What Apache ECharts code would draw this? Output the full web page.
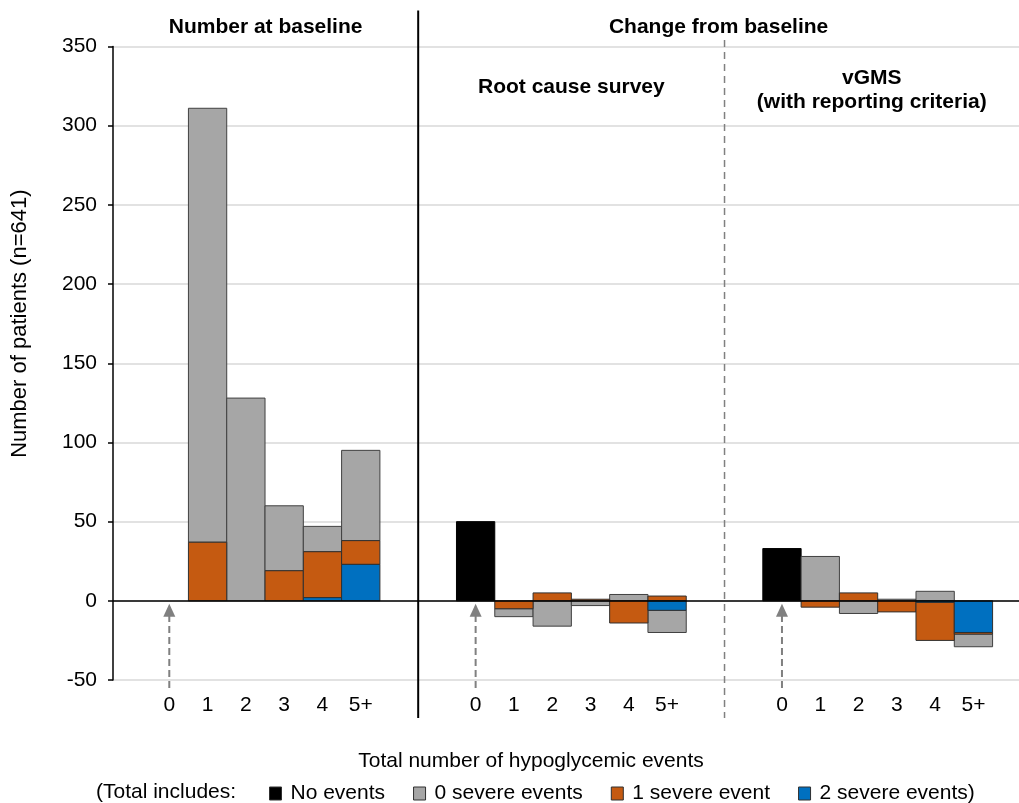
<!DOCTYPE html>
<html><head><meta charset="utf-8">
<script src="https://cdn.jsdelivr.net/npm/echarts@6/dist/echarts.min.js"></script>
<style>html,body{margin:0;padding:0;background:#fff}#c{width:1019px;height:803px}</style>
</head><body><div id="c"></div>
<script>
// ---------- data ----------
const categories = ['0', '1', '2', '3', '4', '5+'];
const seriesNames = ['No events', '0 severe events', '1 severe event', '2 severe events'];
// Number at baseline
const baseNoEvents = [0, 0, 0, 0, 0, 0];
const baseSevere0  = [0, 274, 128, 41, 16, 57];
const baseSevere1  = [0, 37, 0, 19, 29, 15];
const baseSevere2  = [0, 0, 0, 0, 2, 23];
// Change from baseline: Root cause survey
const rcNoEvents = [50, 0, 0, 0, 0, 0];
const rcSevere0  = [0, -5, -16, -3, 4, -14];
const rcSevere1  = [0, -5, 5, 1, -14, 3];
const rcSevere2  = [0, 0, 0, 0, 0, -6];
// Change from baseline: vGMS (with reporting criteria)
const vgNoEvents = [33, 0, 0, 0, 0, 0];
const vgSevere0  = [0, 28, -8, 1, 6, -8];
const vgSevere1  = [0, -4, 5, -7, -24, -1];
const vgSevere2  = [0, 0, 0, 0, -1, -20];
const yTicks = [-50, 0, 50, 100, 150, 200, 250, 300, 350];

// ---------- styling ----------
const FONT = '"Liberation Sans", Arial, sans-serif';
const COLORS = { none: '#000000', s0: '#a6a6a6', s1: '#c55a11', s2: '#0070c0' };
const BORDERS = { none: '#000000', s0: '#404040', s1: '#303030', s2: '#303030' };
const KEYS = ['none', 's0', 's1', 's2'];
const PANEL_STEP = 8;

const panels = [
  { none: baseNoEvents, s0: baseSevere0, s1: baseSevere1, s2: baseSevere2 },
  { none: rcNoEvents, s0: rcSevere0, s1: rcSevere1, s2: rcSevere2 },
  { none: vgNoEvents, s0: vgSevere0, s1: vgSevere1, s2: vgSevere2 }
];

// stack segments (same-sign stacking: no events, 2 severe, 1 severe, 0 severe outward from zero)
const seg = { none: [], s0: [], s1: [], s2: [] };
panels.forEach((p, pi) => {
  categories.forEach((c, ci) => {
    const x = pi * PANEL_STEP + ci;
    let pos = 0, neg = 0;
    ['none', 's2', 's1', 's0'].forEach(k => {
      const v = p[k][ci];
      if (!v) return;
      if (v > 0) { seg[k].push([x, pos, pos + v]); pos += v; }
      else { seg[k].push([x, neg, neg + v]); neg += v; }
    });
  });
});
const arrowX = panels.map((p, pi) => [pi * PANEL_STEP + categories.indexOf('0'), 0]);
const labelValues = [];
panels.forEach((p, pi) => categories.forEach((c, ci) => labelValues.push(pi * PANEL_STEP + ci)));

const chart = echarts.init(document.getElementById('c'), null, { renderer: 'canvas' });

const barSeries = KEYS.map((k, i) => ({
  type: 'custom',
  name: seriesNames[i],
  data: seg[k],
  encode: { x: 0, y: [1, 2] },
  itemStyle: { color: COLORS[k], borderColor: BORDERS[k], borderWidth: 1 },
  renderItem: (params, api) => {
    const x = api.value(0), y0 = api.value(1), y1 = api.value(2);
    const a = api.coord([x - 0.5, y0]), b = api.coord([x + 0.5, y1]);
    return {
      type: 'rect',
      shape: { x: a[0], y: Math.min(a[1], b[1]), width: b[0] - a[0], height: Math.abs(b[1] - a[1]) },
      style: { fill: COLORS[k], stroke: BORDERS[k], lineWidth: 1 }
    };
  }
}));

const arrowSeries = {
  type: 'custom',
  name: 'arrows',
  data: arrowX,
  encode: { x: 0, y: 1 },
  silent: true,
  z: 3,
  renderItem: (params, api) => {
    const x = api.value(0);
    const tip = api.coord([x, 0]);
    const bot = api.coord([x, -50]);
    const tipY = tip[1] + 3, baseY = bot[1] + 8;
    return {
      type: 'group',
      children: [
        { type: 'line', shape: { x1: tip[0], y1: baseY, x2: tip[0], y2: tipY + 12 },
          style: { stroke: '#808080', lineWidth: 2, lineDash: [7, 4] } },
        { type: 'polygon', shape: { points: [[tip[0], tipY], [tip[0] - 6, tipY + 13], [tip[0] + 6, tipY + 13]] },
          style: { fill: '#808080' } }
      ]
    };
  },
  markLine: {
    silent: true, symbol: 'none', label: { show: false },
    lineStyle: { color: '#000', width: 1.5, type: 'solid' },
    data: [{ yAxis: 0 }]
  }
};

const option = {
  backgroundColor: '#fff',
  animation: false,
  grid: { left: 113, right: 0, top: 46.5, bottom: 123 },
  xAxis: {
    type: 'value',
    min: -1.47, max: 22.19,
    axisLine: { show: false, onZero: false },
    axisTick: { show: false },
    splitLine: { show: false },
    axisLabel: {
      customValues: labelValues,
      formatter: v => categories[Math.round(v) % PANEL_STEP] || '',
      fontSize: 21, fontFamily: FONT, color: '#000', margin: 15
    }
  },
  yAxis: {
    type: 'value',
    min: yTicks[0], max: yTicks[yTicks.length - 1], interval: 50,
    axisLine: { show: true, onZero: false, lineStyle: { color: '#000', width: 1.5 } },
    axisTick: { show: true, length: 5, lineStyle: { color: '#000', width: 1.5 } },
    splitLine: { show: true, lineStyle: { color: '#d9d9d9', width: 1.5 } },
    axisLabel: { fontSize: 21, fontFamily: FONT, color: '#000', margin: 16 }
  },
  legend: {
    left: 264, top: 778,
    icon: 'rect', itemWidth: 12, itemHeight: 13, itemGap: 28,
    textStyle: { fontSize: 21, fontFamily: FONT, color: '#000', padding: [0, 0, 0, 4] },
    formatter: name => name === seriesNames[seriesNames.length - 1] ? name + ')' : name,
    data: seriesNames.map((n, i) => ({ name: n, itemStyle: { color: COLORS[KEYS[i]], borderColor: '#303030', borderWidth: 1 } }))
  },
  series: barSeries.concat([arrowSeries])
};
chart.setOption(option);

// annotations positioned from axis scales
const px = v => chart.convertToPixel({ xAxisIndex: 0 }, v);
const py = v => chart.convertToPixel({ yAxisIndex: 0 }, v);
const gridL = px(-1.47), gridR = px(22.19);
const sep1 = px(6.5), sep2 = px(14.5);
const t = (text, x, y, opts) => Object.assign({
  type: 'text', x: x, y: y,
  style: Object.assign({ text: text, font: 'bold 21px ' + FONT, fill: '#000',
    align: 'center', verticalAlign: 'middle', textAlign: 'center', textVerticalAlign: 'middle' }, opts || {})
});
chart.setOption({
  graphic: [
    { type: 'line', shape: { x1: sep1, y1: 10.5, x2: sep1, y2: 718 }, style: { stroke: '#000', lineWidth: 2 }, z: 10 },
    { type: 'line', shape: { x1: sep2, y1: 40, x2: sep2, y2: 718 }, style: { stroke: '#808080', lineWidth: 1.5, lineDash: [7, 5] }, z: 10 },
    t('Number at baseline', (gridL + sep1) / 2, 27),
    t('Change from baseline', (sep1 + gridR) / 2, 27),
    t('Root cause survey', (sep1 + sep2) / 2, 87),
    t('vGMS\n(with reporting criteria)', (sep2 + gridR) / 2, 90, { lineHeight: 24 }),
    Object.assign(t('Number of patients (n=641)', 0, 0, { font: '22px ' + FONT }), { x: 20, y: (py(350) + py(0)) / 2, rotation: Math.PI / 2 }),
    t('Total number of hypoglycemic events', 531, 761, { font: '21px ' + FONT }),
    t('(Total includes:', 96, 792, { font: '21px ' + FONT, align: 'left', textAlign: 'left' })
  ]
});
</script>
</body></html>
